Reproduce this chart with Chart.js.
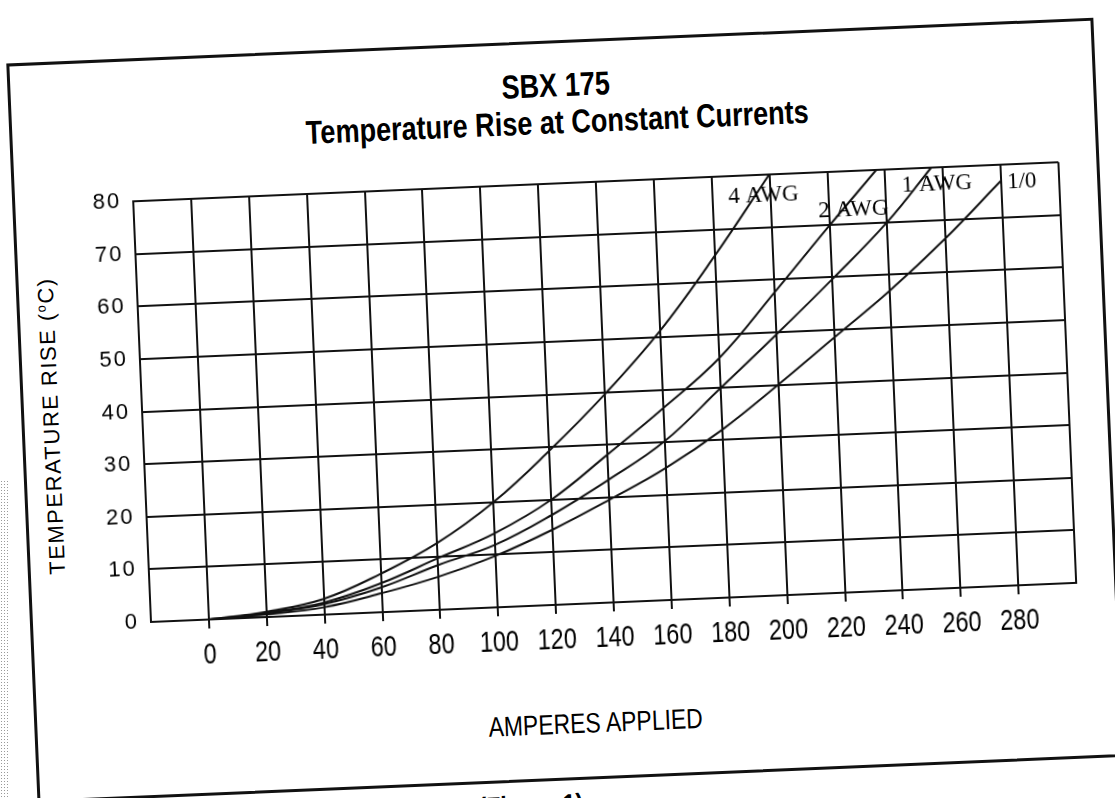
<!DOCTYPE html>
<html>
<head>
<meta charset="utf-8">
<title>SBX 175 - Temperature Rise at Constant Currents</title>
<script src="https://cdn.jsdelivr.net/npm/chart.js@4.4.1/dist/chart.umd.min.js"></script>
<style>
  html, body { margin: 0; padding: 0; background: #fff; overflow: hidden; }
  body { width: 1115px; height: 798px; position: relative; }
  #scanEdge {
    position: absolute; left: 0; top: 480px; width: 9px; height: 318px;
    background-image: radial-gradient(#9a9a9a 0.7px, transparent 0.9px);
    background-size: 3px 3px;
  }
  #sheet {
    position: absolute; left: 0; top: 0; width: 1160px; height: 880px;
    transform-origin: 150px 622px; transform: rotate(-2.42deg);
  }
  #frame {
    position: absolute; left: 30px; top: 58px; width: 1088px; height: 740px;
    box-sizing: border-box; border: 3px solid #111;
  }
  .txt { position: absolute; color: #000; white-space: nowrap; transform: translate(-50%, -50%); }
  /* the scan uses a condensed Helvetica, so squeeze Liberation Sans */
  .narrow { transform: translate(-50%, -50%) scaleX(0.82); }
  .title { font: bold 33px "Liberation Sans", Arial, sans-serif; }
  #xTitle { font: 28px "Liberation Sans", Arial, sans-serif; }
  #yTitle { font: 22px "Liberation Sans", Arial, sans-serif; letter-spacing: 1.5px;
            transform: translate(-50%, -50%) rotate(-90deg); }
  #figCap { font: bold 28px "Liberation Sans", Arial, sans-serif; }
  #chartBox { position: absolute; left: 0; top: 0; width: 1100px; height: 720px; }
</style>
</head>
<body>
<div id="scanEdge"></div>
<div id="sheet">
  <div id="frame"></div>
  <div class="txt narrow title" style="left:578px; top:103px;">SBX 175</div>
  <div class="txt narrow title" style="left:578px; top:140px;">Temperature Rise at Constant Currents</div>
  <div class="txt" id="yTitle" style="left:60px; top:422px;">TEMPERATURE RISE (<sup style="font-size:13px;">o</sup>C)</div>
  <div class="txt narrow" id="xTitle" style="left:591px; top:742px;">AMPERES APPLIED</div>
  <div class="txt narrow" id="figCap" style="left:523px; top:822px;">(Figure 1)</div>
  <div id="chartBox"><canvas id="chart" width="1100" height="720"></canvas></div>
</div>
<script>
// Temperature rise (deg C) vs applied current (A)
const amps4AWG = [0, 20, 40, 60, 80, 100, 120, 140, 160, 180, 200];
const rise4AWG = [0, 1.0, 3.0, 7.3, 12.7, 20.0, 29.3, 39.6, 51.2, 65.0, 80.0];

const amps2AWG = [0, 20, 40, 60, 80, 100, 120, 140, 160, 180, 200, 220, 237];
const rise2AWG = [0, 0.8, 2.3, 5.5, 9.8, 14.1, 20.0, 28.1, 36.5, 45.5, 57.5, 69.8, 80.0];

const amps1AWG = [0, 20, 40, 60, 80, 100, 120, 140, 160, 180, 200, 220, 240, 256];
const rise1AWG = [0, 0.7, 2.0, 4.7, 8.5, 11.9, 17.1, 23.3, 30.2, 39.8, 49.5, 59.5, 70.0, 80.0];

const amps1_0 = [0, 20, 40, 60, 80, 100, 120, 140, 160, 180, 200, 220, 240, 260, 280];
const rise1_0 = [0, 0.5, 1.4, 3.6, 6.3, 9.8, 14.3, 19.5, 25.1, 31.9, 40.0, 48.5, 57.0, 66.5, 77.0];

// Axis ranges / ticks
const xMin = -20, xMax = 300, xStep = 20;
const xLabelFirst = 0, xLabelLast = 280;
const yMin = 0, yMax = 80, yStep = 10;

// Curve names written on the plot, anchored in data units
const curveNames = ['4 AWG', '2 AWG', '1 AWG', '1/0'];
const nameAmps = [197.7, 228.5, 257.7, 287.1];
const nameRise = [76.0, 72.6, 76.8, 76.5];

const ink = '#111111';

function toPoints(xs, ys) {
    return xs.map((x, i) => ({ x: x, y: ys[i] }));
}

function curve(label, xs, ys) {
    return {
        label: label,
        data: toPoints(xs, ys),
        borderColor: ink,
        borderWidth: 2,
        pointRadius: 0,
        fill: false,
        tension: 0.4
    };
}

function ampLabel(v) {
    return (v >= xLabelFirst && v <= xLabelLast) ? String(v) : '';
}

// Spaced digits on the y axis like the printed sheet
const spacingPlugin = {
    id: 'spacing',
    beforeDraw(chart) {
        chart.ctx.letterSpacing = '2px';
    }
};

// Condensed amp labels under the x axis, placed with the x scale
const ampLabelPlugin = {
    id: 'ampLabels',
    afterDraw(chart) {
        const { ctx, chartArea, scales: { x } } = chart;
        ctx.save();
        ctx.letterSpacing = '0px';
        ctx.font = '30px "Liberation Sans", Arial, sans-serif';
        ctx.fillStyle = '#000';
        ctx.textAlign = 'center';
        ctx.textBaseline = 'middle';
        x.ticks.forEach(t => {
            const text = ampLabel(t.value);
            if (!text) return;
            ctx.save();
            ctx.translate(x.getPixelForValue(t.value), chartArea.bottom + 36);
            ctx.scale(0.78, 1);
            ctx.fillText(text, 0, 0);
            ctx.restore();
        });
        ctx.restore();
    }
};

// Draw the wire size names over the curves
const curveNamePlugin = {
    id: 'curveNames',
    afterDatasetsDraw(chart) {
        const { ctx, scales: { x, y } } = chart;
        ctx.save();
        ctx.letterSpacing = '0px';
        ctx.font = '23px "Liberation Serif", "Times New Roman", serif';
        ctx.fillStyle = '#000';
        ctx.textAlign = 'center';
        ctx.textBaseline = 'middle';
        curveNames.forEach((name, i) => {
            ctx.fillText(name, x.getPixelForValue(nameAmps[i]), y.getPixelForValue(nameRise[i]));
        });
        ctx.restore();
    }
};

const chart = new Chart(document.getElementById('chart'), {
    type: 'line',
    data: {
        datasets: [
            curve('4 AWG', amps4AWG, rise4AWG),
            curve('2 AWG', amps2AWG, rise2AWG),
            curve('1 AWG', amps1AWG, rise1AWG),
            curve('1/0', amps1_0, rise1_0)
        ]
    },
    options: {
        responsive: false,
        animation: false,
        events: [],
        layout: {
            padding: { top: 201, right: 23, left: 0, bottom: 0 }
        },
        plugins: {
            legend: { display: false },
            tooltip: { enabled: false }
        },
        scales: {
            x: {
                type: 'linear',
                min: xMin,
                max: xMax,
                afterFit(scale) { scale.height = 98; },
                ticks: {
                    stepSize: xStep,
                    display: false,
                    callback: ampLabel
                },
                grid: {
                    color: ink,
                    lineWidth: 2,
                    drawTicks: true,
                    tickLength: 9,
                    tickColor: c => (c.tick && (c.tick.value < xLabelFirst || c.tick.value > xLabelLast)) ? 'rgba(0,0,0,0)' : ink
                },
                border: { color: ink, width: 2 }
            },
            y: {
                min: yMin,
                max: yMax,
                afterFit(scale) { scale.width = 151; },
                ticks: {
                    stepSize: yStep,
                    color: '#000',
                    padding: 12,
                    font: { family: '"Liberation Sans", Arial, sans-serif', size: 22 }
                },
                grid: {
                    color: ink,
                    lineWidth: 2,
                    drawTicks: false
                },
                border: { color: ink, width: 2 }
            }
        }
    },
    plugins: [spacingPlugin, curveNamePlugin, ampLabelPlugin]
});
</script>
</body>
</html>
